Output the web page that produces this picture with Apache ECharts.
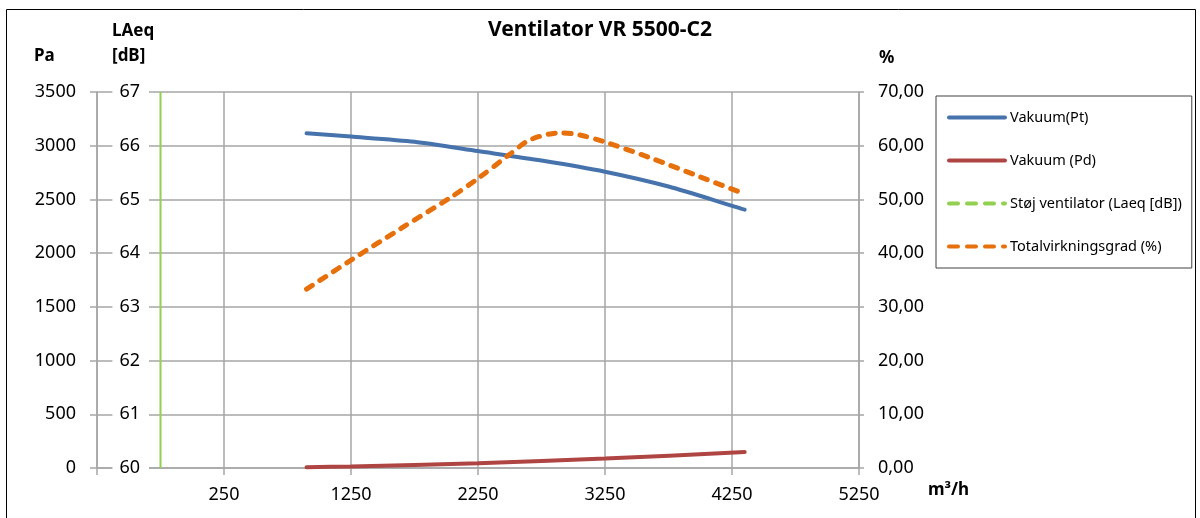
<!DOCTYPE html>
<html>
<head>
<meta charset="utf-8">
<script src="https://cdn.jsdelivr.net/npm/echarts@6/dist/echarts.min.js"></script>
<style>
html,body{margin:0;padding:0;background:#fff;}
#chart{width:1200px;height:518px;}
</style>
</head>
<body>
<div id="chart"></div>
<script>
// ---- data ----
var flowPt = [900, 1250, 1750, 2250, 2750, 3250, 3750, 4350];
var vakuumPt = [3115, 3085, 3037, 2950, 2862, 2758, 2620, 2405];

var flowPd = [900, 1250, 2250, 3250, 4350];
var vakuumPd = [8, 14, 45, 88, 148];

var flowStoj = [-250, -250];
var stojLaeq = [60, 67];

var flowEff = [900, 1250, 1650, 2030, 2250, 2500, 2660, 2900, 3050, 3250, 3600, 4000, 4350];
var effPct = [33.3, 38.7, 44.7, 50.3, 53.9, 58.4, 61.1, 62.4, 62.0, 60.7, 57.8, 54.2, 51.0];

var seriesNames = ['Vakuum(Pt)', 'Vakuum (Pd)', 'Støj ventilator (Laeq [dB])', 'Totalvirkningsgrad (%)'];
var titleText = 'Ventilator VR 5500-C2';

function pairs(xs, ys) { return xs.map(function (x, i) { return [x, ys[i]]; }); }

var FONT = '"Noto Sans", "DejaVu Sans", sans-serif';
var GRID = '#A6A6A6';
var BLUE = '#4673AB', RED = '#AE4542', GREEN = '#92D050', ORANGE = '#E6700C';

var chart = echarts.init(document.getElementById('chart'), null, {renderer: 'canvas'});
chart.setOption({
  animation: false,
  backgroundColor: '#fff',
  textStyle: {fontFamily: FONT},
  title: {
    text: titleText, left: 'center', top: 15,
    textStyle: {fontFamily: FONT, fontSize: 21, fontWeight: 'bold', color: '#000'}
  },
  grid: {left: 97, right: 341, top: 92, bottom: 50, containLabel: false},
  legend: {
    orient: 'vertical', left: 936, top: 96,
    padding: [14, 10, 14, 11],
    borderColor: '#404040', borderWidth: 1,
    itemWidth: 56, itemHeight: 14, itemGap: 28,
    textStyle: {fontFamily: FONT, fontSize: 14.5, color: '#000'},
    itemStyle: {color: 'rgba(0,0,0,0)', borderWidth: 0, opacity: 0},
    lineStyle: {width: 4, cap: 'round'},
    data: [
      {name: seriesNames[0], lineStyle: {type: 'solid', width: 4, cap: 'round', color: BLUE}},
      {name: seriesNames[1], lineStyle: {type: 'solid', width: 4, cap: 'round', color: RED}},
      {name: seriesNames[2], lineStyle: {type: [9, 9], width: 4, cap: 'round', color: GREEN}},
      {name: seriesNames[3], lineStyle: {type: [9, 9], width: 4, cap: 'round', color: ORANGE}}
    ]
  },
  xAxis: {
    type: 'value', min: -750, max: 5250, interval: 1000,
    axisLine: {show: true, onZero: false, lineStyle: {color: GRID, width: 1.5}},
    axisTick: {show: true, length: 7, lineStyle: {color: GRID, width: 1.5}},
    splitLine: {show: true, lineStyle: {color: GRID, width: 1.5}},
    axisLabel: {
      margin: 18, fontSize: 18, color: '#000', fontFamily: FONT,
      formatter: function (v) { return v < 0 ? '' : String(v); }
    }
  },
  yAxis: [
    {
      type: 'value', position: 'left', min: 0, max: 3500, interval: 500,
      axisLine: {show: true, onZero: false, lineStyle: {color: GRID, width: 1.5}},
      axisTick: {show: true, length: 7, lineStyle: {color: GRID, width: 1.5}},
      splitLine: {show: true, lineStyle: {color: GRID, width: 1.5}},
      axisLabel: {margin: 21, fontSize: 18, color: '#000', fontFamily: FONT,
        formatter: function (v) { return String(v); }}
    },
    {
      type: 'value', position: 'left', offset: -52, min: 60, max: 67, interval: 1,
      z: 5,
      axisLine: {show: false, onZero: false},
      axisTick: {show: false},
      splitLine: {show: false},
      axisLabel: {
        margin: 0, fontSize: 18, color: '#000', fontFamily: FONT,
        backgroundColor: '#fff', padding: [3, 9, 3, 7],
        formatter: function (v) { return String(v); }
      }
    },
    {
      type: 'value', position: 'right', min: 0, max: 70, interval: 10,
      axisLine: {show: true, onZero: false, lineStyle: {color: GRID, width: 1.5}},
      axisTick: {show: true, length: 5, lineStyle: {color: GRID, width: 1.5}},
      splitLine: {show: false},
      axisLabel: {
        margin: 19, fontSize: 18, color: '#000', fontFamily: FONT,
        formatter: function (v) { return v.toFixed(2).replace('.', ','); }
      }
    }
  ],
  series: [
    {
      name: seriesNames[0], type: 'line', yAxisIndex: 0, smooth: 0.25,
      symbol: 'none', data: pairs(flowPt, vakuumPt),
      lineStyle: {color: BLUE, width: 4, cap: 'round'},
      itemStyle: {color: BLUE}, z: 3
    },
    {
      name: seriesNames[1], type: 'line', yAxisIndex: 0, smooth: 0.25,
      symbol: 'none', data: pairs(flowPd, vakuumPd),
      lineStyle: {color: RED, width: 4, cap: 'round'},
      itemStyle: {color: RED}, z: 3
    },
    {
      name: seriesNames[2], type: 'line', yAxisIndex: 1,
      symbol: 'none', data: pairs(flowStoj, stojLaeq),
      lineStyle: {color: GREEN, width: 2},
      itemStyle: {color: GREEN}, z: 3
    },
    {
      name: seriesNames[3], type: 'line', yAxisIndex: 2, smooth: 0.3,
      symbol: 'none', data: pairs(flowEff, effPct),
      lineStyle: {color: ORANGE, width: 5, type: [7, 9], cap: 'round'},
      itemStyle: {color: ORANGE}, z: 4
    }
  ],
  graphic: [
    {type: 'rect', silent: true, z: 100,
     shape: {x: 6.5, y: 9.5, width: 1189, height: 540},
     style: {fill: null, stroke: '#000', lineWidth: 1}},
    {type: 'text', silent: true, x: 34, y: 56,
     style: {text: 'Pa', font: 'bold 17px ' + FONT, fill: '#000', align: 'left', verticalAlign: 'middle'}},
    {type: 'text', silent: true, x: 112, y: 31,
     style: {text: 'LAeq', font: 'bold 17px ' + FONT, fill: '#000', align: 'left', verticalAlign: 'middle'}},
    {type: 'text', silent: true, x: 112, y: 56,
     style: {text: '[dB]', font: 'bold 17px ' + FONT, fill: '#000', align: 'left', verticalAlign: 'middle'}},
    {type: 'text', silent: true, x: 879, y: 58,
     style: {text: '%', font: 'bold 17px ' + FONT, fill: '#000', align: 'left', verticalAlign: 'middle'}},
    {type: 'text', silent: true, x: 928, y: 490,
     style: {text: 'm³/h', font: 'bold 17px ' + FONT, fill: '#000', align: 'left', verticalAlign: 'middle'}}
  ]
});
</script>
</body>
</html>
